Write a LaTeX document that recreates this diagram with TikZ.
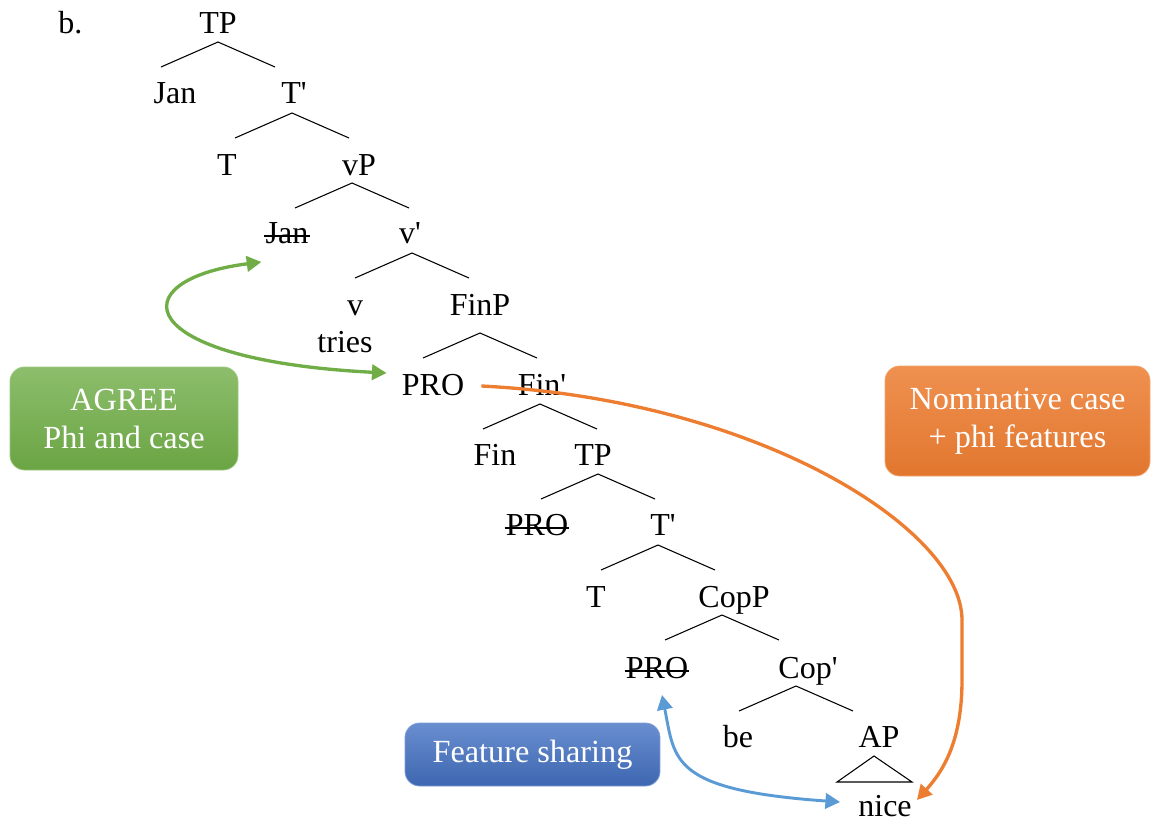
\documentclass[tikz,border=0pt]{standalone}
\usepackage{fontspec}
\setmainfont{Liberation Serif}
\usetikzlibrary{arrows.meta,calc}
\definecolor{agreegreen}{HTML}{70AD47}
\definecolor{nomorange}{HTML}{ED7D31}
\definecolor{sharelight}{HTML}{5B9BD5}
\definecolor{sharedark}{HTML}{4472C4}
\newcommand{\pr}{\textquotesingle}
% branch: node, dx, dy of the apex from the node's base
\newcommand{\branch}[3]{\draw[branch] ($(#1.base)+(#2,#3)+(-57,25)$) -- ($(#1.base)+(#2,#3)$) -- ++(57,25);}

\begin{document}
\begin{tikzpicture}[x=0.75pt, y=-0.75pt,
  lbl/.style={anchor=base, inner sep=0pt, font=\fontsize{24}{28}\selectfont},
  branch/.style={line width=0.8pt},
  strike/.style={line width=1.1pt},
  infobox/.style={rounded corners=11pt, align=center, text=white, inner sep=0pt, line width=0.6pt,
    font=\fontsize{24.2}{28.5}\selectfont},
  link/.style={line width=2.5pt, {Triangle[length=11pt,width=11.5pt]}-{Triangle[length=11pt,width=11.5pt]}},
  onelink/.style={line width=2.5pt, -{Triangle[length=11pt,width=11.5pt]}}
]
\useasboundingbox (0,0) rectangle (1152,821);

\node[lbl, anchor=base west] (ex) at (58,33) {b.};

% tree
\node[lbl] (tp1) at (218,33) {TP};
\node[lbl] (jan1) at (175,103) {Jan};
\node[lbl] (tbar1) at (294,103) {T\pr};
\node[lbl] (t1) at (227,175) {T};
\node[lbl] (vp) at (359,175) {vP};
\node[lbl] (jan2) at (287,243) {Jan};
\node[lbl] (vbar) at (410,243) {v\pr};
\node[lbl] (v) at (355,315) {v};
\node[lbl] (tries) at (345,352) {tries};
\node[lbl] (finp) at (480,315) {FinP};
\node[lbl] (pro1) at (433,395) {PRO};
\node[lbl] (finbar) at (542,395) {Fin\pr};
\node[lbl] (fin) at (495,465) {Fin};
\node[lbl] (tp2) at (593,465) {TP};
\node[lbl] (pro2) at (537,535) {PRO};
\node[lbl] (tbar2) at (663,535) {T\pr};
\node[lbl] (t2) at (596,607) {T};
\node[lbl] (copp) at (734,607) {CopP};
\node[lbl] (pro3) at (657,678) {PRO};
\node[lbl] (copbar) at (808,678) {Cop\pr};
\node[lbl] (be) at (738,747) {be};
\node[lbl] (ap) at (879,747) {AP};
\node[lbl] (nice) at (885,816) {nice};

\branch{tp1}{0}{9}
\branch{tbar1}{-2}{10}
\branch{vp}{-7}{8}
\branch{vbar}{2}{10}
\branch{finp}{0}{18}
\branch{finbar}{-2}{9}
\branch{tp2}{5}{9}
\branch{tbar2}{-5}{10}
\branch{copp}{-12}{8}
\branch{copbar}{-12}{8}
\draw[branch] ($(ap.base)+(-5,9)$) -- ++(-37,26) -- ++(75,0) -- cycle;

% copies
\foreach \n in {jan2,pro2,pro3}
  \draw[strike] ($(\n.base west)+(-1,-7)$) -- ($(\n.base east)+(1,-7)$);

% boxes
\node[infobox, draw=agreegreen!70!white, top color=agreegreen!80!white, bottom color=agreegreen!95!black,
  minimum width=171pt, minimum height=77.25pt] (agree) at (124,418.5) {AGREE\\Phi and case};
\node[infobox, draw=nomorange!70!white, top color=nomorange!85!white, bottom color=nomorange!95!black,
  minimum width=198.75pt, minimum height=82.5pt] (nom) at (1017.5,421) {Nominative case\\+ phi features};
\node[infobox, draw=sharedark!70!white, top color=sharedark!80!white, bottom color=sharedark!90!black,
  minimum width=191.25pt, minimum height=47.25pt] (share) at (532.5,754.5) {Feature sharing};

% arrows
\draw[link, agreegreen] ([shift={(-4,19)}]jan2.base west) .. controls (120,280) and (130,360) .. ([shift={(-15,-22)}]pro1.base west);
\draw[onelink, nomorange] ([shift={(17,-9)}]pro1.base east) .. controls (760,400) and (962,530) .. (962,620)
  -- (962,680) .. controls (962,740) and (944,770) .. ([shift={(5,-16)}]nice.base east);
\draw[link, sharelight, line width=2.2pt] ([shift={(5,17)}]pro3.base) .. controls (675,760) and (670,790) .. ([shift={(-18,-14)}]nice.base west);
\end{tikzpicture}
\end{document}
